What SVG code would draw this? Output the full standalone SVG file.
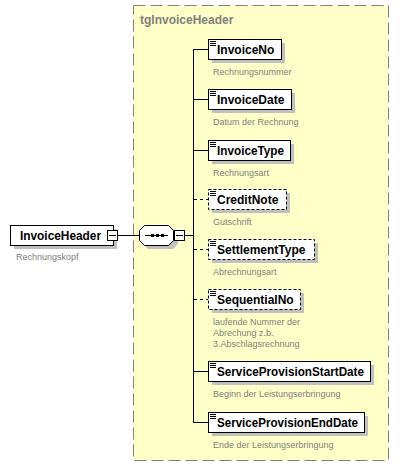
<svg xmlns="http://www.w3.org/2000/svg" width="400" height="468" viewBox="0 0 400 468">
<style>
.grp{fill:#FFFFC8;stroke:#808080;stroke-width:1;stroke-dasharray:12,5}
.title{font-family:"Liberation Sans",Arial,sans-serif;font-weight:bold;font-size:12px;fill:#808080}
.box{fill:#fff;stroke:#000;stroke-width:1}
.obox{fill:#fff;stroke:#000;stroke-width:1;stroke-dasharray:3,2}
.sh{fill:#C0C0C0}
.name{font-family:"Liberation Sans",Arial,sans-serif;font-weight:bold;font-size:12px;fill:#000}
.desc{font-family:"Liberation Sans",Arial,sans-serif;font-size:9px;fill:#808080}
.ln{stroke:#000;stroke-width:1;fill:none}
.dln{stroke:#000;stroke-width:1;fill:none;stroke-dasharray:3,3}
.ic{stroke:#000;stroke-width:1}
</style>
<defs>
<g id="icon"><line class="ic" x1="0" y1="0.5" x2="6" y2="0.5"/><line class="ic" x1="0" y1="2.5" x2="6" y2="2.5"/><line class="ic" x1="0" y1="4.5" x2="6" y2="4.5"/></g>
</defs>
<g id="tgInvoiceHeader">
<rect class="grp" x="133.5" y="5.5" width="255" height="455"/>
<text class="title" x="140" y="24">tgInvoiceHeader</text>
</g>
<g id="connectors">
<line class="ln" x1="117" y1="235.5" x2="139" y2="235.5"/>
<line class="ln" x1="184" y1="235.5" x2="193" y2="235.5"/>
<line class="ln" x1="193.5" y1="49" x2="193.5" y2="422"/>
<line class="ln" x1="193" y1="49.5" x2="208" y2="49.5"/>
<line class="ln" x1="193" y1="99.5" x2="208" y2="99.5"/>
<line class="ln" x1="193" y1="150.5" x2="208" y2="150.5"/>
<line class="dln" x1="194" y1="199.5" x2="208" y2="199.5"/>
<line class="dln" x1="194" y1="249.5" x2="208" y2="249.5"/>
<line class="dln" x1="194" y1="299.5" x2="208" y2="299.5"/>
<line class="ln" x1="193" y1="371.5" x2="208" y2="371.5"/>
<line class="ln" x1="193" y1="422.5" x2="208" y2="422.5"/>
</g>
<g id="InvoiceHeader">
<rect class="sh" x="14" y="229" width="103" height="20"/>
<rect class="box" x="10.5" y="225.5" width="103" height="20"/>
<text class="name" x="20" y="240" textLength="81" lengthAdjust="spacingAndGlyphs">InvoiceHeader</text>
<rect class="box" x="107.5" y="230.5" width="10" height="10"/>
<line class="ln" x1="109" y1="235.5" x2="116" y2="235.5"/>
<text class="desc" x="16" y="260">Rechnungskopf</text>
</g>
<g id="sequence">
<polygon class="sh" points="148,229 173,229 178,234 178,244 173,249 148,249 143,244 143,234"/>
<polygon class="box" points="144.5,225.5 168.5,225.5 173.5,230.5 173.5,240.5 168.5,245.5 144.5,245.5 139.5,240.5 139.5,230.5"/>
<line class="ln" x1="145" y1="235.5" x2="168" y2="235.5"/>
<rect x="151" y="234" width="3" height="3" fill="#000"/>
<rect x="156" y="234" width="3" height="3" fill="#000"/>
<rect x="161" y="234" width="3" height="3" fill="#000"/>
<rect class="box" x="174.5" y="230.5" width="10" height="10"/>
<line class="ln" x1="176" y1="235.5" x2="183" y2="235.5"/>
</g>
<g id="InvoiceNo">
<rect class="sh" x="212" y="43" width="73" height="20"/>
<rect class="box" x="208.5" y="39.5" width="73" height="20"/>
<use href="#icon" x="210" y="41"/>
<text class="name" x="217" y="54">InvoiceNo</text>
<text class="desc" x="213" y="75">Rechnungsnummer</text>
</g>
<g id="InvoiceDate">
<rect class="sh" x="212" y="93" width="83" height="20"/>
<rect class="box" x="208.5" y="89.5" width="83" height="20"/>
<use href="#icon" x="210" y="91"/>
<text class="name" x="217" y="104">InvoiceDate</text>
<text class="desc" x="213" y="125">Datum der Rechnung</text>
</g>
<g id="InvoiceType">
<rect class="sh" x="212" y="144" width="82" height="20"/>
<rect class="box" x="208.5" y="140.5" width="82" height="20"/>
<use href="#icon" x="210" y="142"/>
<text class="name" x="217" y="155" textLength="67" lengthAdjust="spacingAndGlyphs">InvoiceType</text>
<text class="desc" x="213" y="176">Rechnungsart</text>
</g>
<g id="CreditNote">
<rect class="sh" x="212" y="193" width="78" height="20"/>
<rect class="obox" x="208.5" y="189.5" width="78" height="20"/>
<use href="#icon" x="210" y="191"/>
<text class="name" x="217" y="204">CreditNote</text>
<text class="desc" x="213" y="225">Gutschrift</text>
</g>
<g id="SettlementType">
<rect class="sh" x="212" y="243" width="106" height="20"/>
<rect class="obox" x="208.5" y="239.5" width="106" height="20"/>
<use href="#icon" x="210" y="241"/>
<text class="name" x="217" y="254">SettlementType</text>
<text class="desc" x="213" y="275">Abrechnungsart</text>
</g>
<g id="SequentialNo">
<rect class="sh" x="212" y="293" width="92" height="20"/>
<rect class="obox" x="208.5" y="289.5" width="92" height="20"/>
<use href="#icon" x="210" y="291"/>
<text class="name" x="217" y="304">SequentialNo</text>
<text class="desc" x="213" y="325">laufende Nummer der</text>
<text class="desc" x="213" y="336">Abrechung z.b.</text>
<text class="desc" x="213" y="347">3.Abschlagsrechnung</text>
</g>
<g id="ServiceProvisionStartDate">
<rect class="sh" x="212" y="365" width="162" height="20"/>
<rect class="box" x="208.5" y="361.5" width="162" height="20"/>
<use href="#icon" x="210" y="363"/>
<text class="name" x="217" y="376" textLength="147" lengthAdjust="spacingAndGlyphs">ServiceProvisionStartDate</text>
<text class="desc" x="213" y="397">Beginn der Leistungserbringung</text>
</g>
<g id="ServiceProvisionEndDate">
<rect class="sh" x="212" y="416" width="156" height="20"/>
<rect class="box" x="208.5" y="412.5" width="156" height="20"/>
<use href="#icon" x="210" y="414"/>
<text class="name" x="217" y="427" textLength="141" lengthAdjust="spacingAndGlyphs">ServiceProvisionEndDate</text>
<text class="desc" x="213" y="448">Ende der Leistungserbringung</text>
</g>
</svg>
